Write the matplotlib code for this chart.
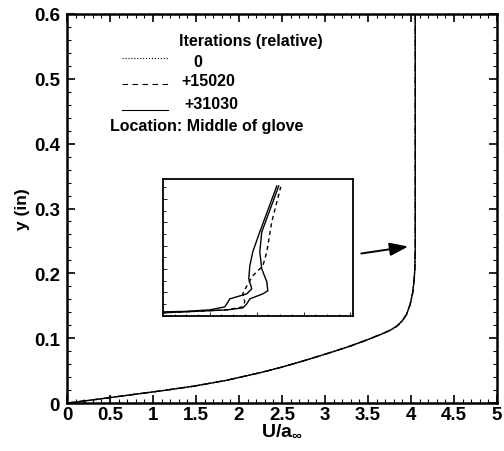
import matplotlib
matplotlib.use("Agg")
import matplotlib.pyplot as plt
from matplotlib.ticker import MultipleLocator
from matplotlib.lines import Line2D

plt.rcParams['font.family'] = ['Liberation Sans', 'DejaVu Sans']
plt.rcParams['font.weight'] = 'bold'
plt.rcParams['mathtext.fontset'] = 'custom'
plt.rcParams['mathtext.rm'] = 'Liberation Sans:bold'
plt.rcParams['mathtext.bf'] = 'Liberation Sans:bold'

# Main profile (all three iterations overlap at this scale)
u_main = [0.0, 0.35, 0.70, 1.10, 1.47, 1.85, 2.25, 2.50, 2.71, 3.09, 3.30, 3.49, 3.67, 3.76, 3.84, 3.90, 3.95, 3.99, 4.02, 4.037, 4.046, 4.05, 4.05, 4.05]
y_main = [0.0, 0.0058, 0.012, 0.019, 0.026, 0.035, 0.047, 0.0555, 0.0635, 0.079, 0.0882, 0.0975, 0.107, 0.1125, 0.119, 0.127, 0.137, 0.152, 0.170, 0.190, 0.210, 0.240, 0.400, 0.600]

series_labels = ['0', '+15020', '+31030']
series_styles = [':', (0, (5, 4)), '-']

# Inset (zoomed view, arbitrary local units)
ins_x_0 = [0.0, 5.46, 6.82, 7.16, 7.42, 8.53, 8.95, 8.87, 8.44, 8.27, 8.44, 9.89]
ins_y_0 = [0.26, 0.51, 0.68, 1.02, 1.45, 1.88, 2.14, 2.90, 4.01, 5.47, 7.17, 11.10]
ins_x_15020 = [0.0, 5.46, 6.82, 6.99, 6.82, 7.16, 7.67, 8.53, 8.87, 9.29, 10.06]
ins_y_15020 = [0.26, 0.51, 0.77, 1.20, 1.88, 2.56, 3.42, 4.27, 5.47, 8.03, 11.02]
ins_x_31030 = [0.0, 1.88, 4.01, 5.29, 5.46, 5.71, 7.16, 7.59, 7.33, 7.42, 7.67, 8.27, 9.72]
ins_y_31030 = [0.34, 0.38, 0.51, 0.77, 1.02, 1.45, 1.88, 2.31, 3.16, 4.27, 5.47, 7.17, 11.10]

fig = plt.figure(figsize=(5.04, 4.52), dpi=100)
ax = fig.add_axes([0.133, 0.106, 0.853, 0.861])

for ls in series_styles:
    ax.plot(u_main, y_main, color='black', lw=1.0, linestyle=ls)

ax.set_xlim(0, 5)
ax.set_ylim(0, 0.6)
ax.xaxis.set_minor_locator(MultipleLocator(0.1))
ax.yaxis.set_minor_locator(MultipleLocator(0.02))
ax.set_xticks([0, 0.5, 1, 1.5, 2, 2.5, 3, 3.5, 4, 4.5, 5])
ax.set_xticklabels(['0', '0.5', '1', '1.5', '2', '2.5', '3', '3.5', '4', '4.5', '5'])
ax.set_yticks([0, 0.1, 0.2, 0.3, 0.4, 0.5, 0.6])
ax.set_yticklabels(['0', '0.1', '0.2', '0.3', '0.4', '0.5', '0.6'])
ax.tick_params(which='both', direction='in', top=True, right=True, width=1.2, labelsize=13.5)
ax.tick_params(which='major', length=6)
ax.tick_params(which='minor', length=3, width=0.8)
ax.tick_params(axis='x', pad=2)
ax.tick_params(axis='y', pad=5)
for sp in ax.spines.values():
    sp.set_linewidth(1.8)
ax.set_xlabel(r'$\mathrm{U/a}_{\infty}$', fontsize=14, labelpad=-1)
ax.set_ylabel('y (in)', fontsize=12.5, fontweight='bold', labelpad=3)

# Legend (manual)
ax.text(0.428, 0.931, 'Iterations (relative)', transform=ax.transAxes, ha='center', va='center', fontsize=11.5, fontweight='bold')
line_y = [0.887, 0.820, 0.753]
text_y = [0.877, 0.828, 0.769]
text_x = [0.293, 0.267, 0.272]
for yl, yt, xt, ls, lab in zip(line_y, text_y, text_x, series_styles, series_labels):
    ax.add_line(Line2D([0.128, 0.235], [yl, yl], transform=ax.transAxes, color='black', lw=0.8, linestyle=ls))
    ax.text(xt, yt, lab, transform=ax.transAxes, ha='left', va='center', fontsize=11.5, fontweight='bold')
ax.text(0.100, 0.712, 'Location: Middle of glove', transform=ax.transAxes, ha='left', va='center', fontsize=11.5, fontweight='bold')

# Arrow pointing to the zoomed region
ax.annotate('', xy=(4.00, 0.242), xytext=(3.39, 0.230),
            arrowprops=dict(arrowstyle='-|>,head_length=0.7,head_width=0.25', color='black', lw=1.4, mutation_scale=16))

# Inset
axi = fig.add_axes([0.323, 0.299, 0.377, 0.303])
axi.plot(ins_x_0, ins_y_0, color='black', lw=1.0, linestyle='-')
axi.plot(ins_x_15020, ins_y_15020, color='black', lw=1.0, linestyle=(0, (3, 2.5)))
axi.plot(ins_x_31030, ins_y_31030, color='black', lw=1.0, linestyle='-')
axi.set_xlim(0, 16.2)
axi.set_ylim(0, 11.7)
axi.xaxis.set_major_locator(MultipleLocator(4))
axi.xaxis.set_minor_locator(MultipleLocator(1))
axi.yaxis.set_major_locator(MultipleLocator(2))
axi.yaxis.set_minor_locator(MultipleLocator(1))
axi.tick_params(which='both', direction='in', labelbottom=False, labelleft=False, width=0.6)
axi.tick_params(which='major', length=3)
axi.tick_params(which='minor', length=1.8)
for sp in axi.spines.values():
    sp.set_linewidth(1.3)

fig.savefig('out.png', dpi=100)
